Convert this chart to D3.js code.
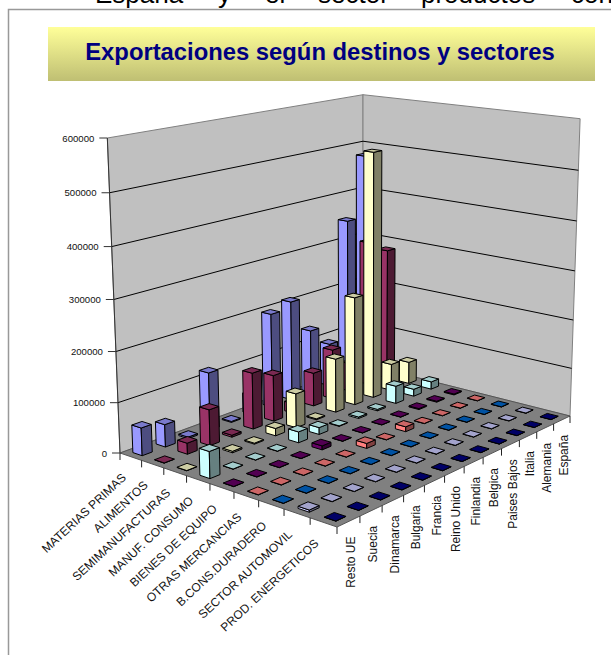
<!DOCTYPE html>
<html lang="es">
<head>
<meta charset="utf-8">
<title>Exportaciones según destinos y sectores</title>
<script src="https://cdn.jsdelivr.net/npm/d3@7/dist/d3.min.js"></script>
<style>
  html, body { margin: 0; padding: 0; background: #fff; overflow: hidden; }
  svg { display: block; }
  text { font-family: "Liberation Sans", Arial, sans-serif; }
</style>
</head>
<body>
<svg id="chart" width="611" height="655"></svg>
<script>
// Sectors run along the left-to-front floor edge, destinations into the depth.
const sectors = ["MATERIAS PRIMAS", "ALIMENTOS", "SEMIMANUFACTURAS", "MANUF. CONSUMO", "BIENES DE EQUIPO",
  "OTRAS MERCANCIAS", "B.CONS.DURADERO", "SECTOR AUTOMOVIL", "PROD. ENERGETICOS"];
const destinos = ["Resto UE", "Suecia", "Dinamarca", "Bulgaria", "Francia", "Reino Unido", "Finlandia",
  "Belgica", "Paises Bajos", "Italia", "Alemania", "España"];
const valueTicks = [0, 100000, 200000, 300000, 400000, 500000, 600000];
const sectorColors = ["#9999FF", "#993366", "#FFFFCC", "#CCFFFF", "#660066", "#FF8080", "#0066CC", "#CCCCFF", "#000080"];

// One array per sector, in the order of destinos.
const materiasPrimas   = [55000, 45000, 3000, 118000, 2000, 40000, 197000, 210000, 135000, 92000, 348000, 478000];
const alimentos        = [500, 22000, 72000, 4000, 115000, 95000, 20000, 70000, 105000, 60000, 310000, 282000];
const semimanufacturas = [500, 1000, 3000, 2000, 15000, 70000, 2000, 112000, 227000, 516000, 57000, 47000];
const manufConsumo     = [52000, 500, 500, 500, 22000, 14000, 1000, 3000, 3000, 37000, 15000, 16000];
const bienesEquipo     = [500, 500, 500, 500, 8000, 500, 500, 500, 500, 2000, 2000, 2000];
const otrasMercancias  = [500, 500, 500, 500, 500, 10000, 500, 10000, 500, 500, 500, 500];
const bConsDuradero    = [500, 500, 500, 500, 500, 500, 500, 500, 500, 500, 500, 500];
const sectorAutomovil  = [4000, 500, 500, 500, 500, 500, 500, 500, 500, 500, 500, 500];
const prodEnergeticos  = [500, 500, 500, 500, 500, 500, 500, 500, 500, 500, 500, 500];
const series = [materiasPrimas, alimentos, semimanufacturas, manufConsumo, bienesEquipo,
  otrasMercancias, bConsDuradero, sectorAutomovil, prodEnergeticos];

// Last line of the running paragraph above the chart, word by word.
const bodyWords = ["España", "y", "el", "sector", "productos", "con"];
const bodyWordStarts = [95, 218, 265, 318, 421, 571];

const svg = d3.select("#chart");

// Perspective camera: the floor homography comes from the four floor corners,
// and uprights converge on one vanishing point below the chart.
const floorCorners = { left: [120, 453], front: [337, 527], right: [570, 416], back: [363, 364] };
const topLeft = [107, 138];
const vanish = [363, 6500];

function floorMatrix(c) {
  const [x0, y0] = c.left, [x1, y1] = c.front, [x2, y2] = c.right, [x3, y3] = c.back;
  const dx1 = x1 - x2, dx2 = x3 - x2, sx = x0 - x1 + x2 - x3;
  const dy1 = y1 - y2, dy2 = y3 - y2, sy = y0 - y1 + y2 - y3;
  const det = dx1 * dy2 - dx2 * dy1;
  const g = (sx * dy2 - dx2 * sy) / det, h = (dx1 * sy - sx * dy1) / det;
  return {
    a: x1 - x0 + g * x1, b: x3 - x0 + h * x3, c: x0,
    d: y1 - y0 + g * y1, e: y3 - y0 + h * y3, f: y0,
    g, h
  };
}
const M = floorMatrix(floorCorners);

// Upright column, scaled so that a full-height wall reaches topLeft.
const upK = (topLeft[1] - floorCorners.left[1]) / (vanish[1] - topLeft[1]);

function project(u, v, w) {
  const X = M.a * u + M.b * v + M.c + w * upK * vanish[0];
  const Y = M.d * u + M.e * v + M.f + w * upK * vanish[1];
  const W = M.g * u + M.h * v + 1 + w * upK;
  return [X / W, Y / W];
}

const uScale = d3.scaleBand().domain(sectors).range([0, 1]);
const vScale = d3.scaleBand().domain(destinos).range([0, 1]);
const wScale = d3.scaleLinear().domain([0, 600000]).range([0, 1]);
const polygon = d3.line();
const closed = pts => polygon(pts) + "Z";

// Running text cut by the top of the page
svg.append("g").selectAll("text").data(bodyWords).join("text")
  .attr("x", (d, i) => bodyWordStarts[i]).attr("y", 3)
  .attr("font-size", 26).attr("fill", "#000").text(d => d);

// Walls and floor
const wallFill = "#C0C0C0", wallEdge = "#808080", ink = "#000";
const walls = svg.append("g");
walls.append("path").attr("d", closed([project(0, 0, 0), project(0, 1, 0), project(0, 1, 1), project(0, 0, 1)]))
  .attr("fill", wallFill).attr("stroke", wallEdge);
walls.append("path").attr("d", closed([project(0, 1, 0), project(1, 1, 0), project(1, 1, 1), project(0, 1, 1)]))
  .attr("fill", wallFill).attr("stroke", wallEdge);
walls.append("path").attr("d", closed([project(0, 0, 0), project(1, 0, 0), project(1, 1, 0), project(0, 1, 0)]))
  .attr("fill", "#808080").attr("stroke", "#555");

// Gridlines on both walls, one per value tick above zero
walls.selectAll("path.grid").data(valueTicks.filter(d => d > 0 && d < 600000)).join("path")
  .attr("class", "grid").attr("fill", "none").attr("stroke", ink).attr("stroke-width", 1)
  .attr("d", d => polygon([project(0, 0, wScale(d)), project(0, 1, wScale(d)), project(1, 1, wScale(d))]));

// Value axis on the outer edge of the left wall
const yAxis = svg.append("g");
yAxis.append("path").attr("fill", "none").attr("stroke", "#333")
  .attr("d", polygon([project(0, 0, 0), project(0, 0, 1)]));
valueTicks.forEach(t => {
  const [x, y] = project(0, 0, wScale(t));
  yAxis.append("line").attr("x1", x - 8).attr("x2", x).attr("y1", y).attr("y2", y).attr("stroke", "#333");
  yAxis.append("text").attr("x", x - 13).attr("y", y + 3.5).attr("text-anchor", "end")
    .attr("font-size", 9.6).attr("fill", "#111").text(t);
});

// Tick marks and labels along the two front floor edges
const edgeTicks = svg.append("g").attr("stroke", "#222");
d3.range(sectors.length + 1).forEach(i => {
  const [x, y] = project(i / sectors.length, 0, 0);
  edgeTicks.append("line").attr("x1", x).attr("x2", x).attr("y1", y).attr("y2", y + 7);
});
d3.range(1, destinos.length + 1).forEach(j => {
  const [x, y] = project(1, j / destinos.length, 0);
  edgeTicks.append("line").attr("x1", x).attr("x2", x).attr("y1", y).attr("y2", y + 7);
});
svg.append("g").selectAll("text").data(sectors).join("text")
  .attr("font-size", 12).attr("fill", "#111").attr("text-anchor", "end")
  .attr("transform", d => {
    const [x, y] = project(uScale(d) + uScale.bandwidth() / 2, 0, 0);
    return `translate(${x - 4},${y + 22}) rotate(-43)`;
  })
  .text(d => d);
svg.append("g").selectAll("text").data(destinos).join("text")
  .attr("font-size", 12).attr("fill", "#111").attr("text-anchor", "end")
  .attr("transform", d => {
    const [x, y] = project(1, vScale(d) + vScale.bandwidth() / 2, 0);
    return `translate(${x + 6},${y + 15}) rotate(-90)`;
  })
  .text(d => d);

// Bars are painted from the back corner toward the viewer
const footprint = 0.43;
const cells = [];
d3.range(destinos.length - 1, -1, -1).forEach(j => {
  sectors.forEach((s, i) => cells.push({ i, j, value: series[i][j], color: sectorColors[i] }));
});
const bars = svg.append("g").attr("stroke", ink).attr("stroke-width", 1).attr("stroke-linejoin", "round");
cells.forEach(c => {
  const du = uScale.bandwidth() * footprint / 2, dv = vScale.bandwidth() * footprint / 2;
  const uc = uScale(sectors[c.i]) + uScale.bandwidth() / 2, vc = vScale(destinos[c.j]) + vScale.bandwidth() / 2;
  const w = wScale(c.value);
  const u0 = uc - du, u1 = uc + du, v0 = vc - dv, v1 = vc + dv;
  const base = d3.color(c.color);
  bars.append("path").attr("fill", base.formatHex())
    .attr("d", closed([project(u0, v0, 0), project(u1, v0, 0), project(u1, v0, w), project(u0, v0, w)]));
  bars.append("path").attr("fill", d3.rgb(base.r * 0.5, base.g * 0.5, base.b * 0.5).formatHex())
    .attr("d", closed([project(u1, v0, 0), project(u1, v1, 0), project(u1, v1, w), project(u1, v0, w)]));
  bars.append("path").attr("fill", d3.rgb(base.r * 0.8, base.g * 0.8, base.b * 0.8).formatHex())
    .attr("d", closed([project(u0, v0, w), project(u1, v0, w), project(u1, v1, w), project(u0, v1, w)]));
});

// Title band
const defs = svg.append("defs");
const grad = defs.append("linearGradient").attr("id", "band").attr("x1", 0).attr("x2", 0).attr("y1", 0).attr("y2", 1);
grad.append("stop").attr("offset", "0%").attr("stop-color", "#FFFF99");
grad.append("stop").attr("offset", "100%").attr("stop-color", "#BFBF73");
svg.append("rect").attr("x", 48).attr("y", 27).attr("width", 547).attr("height", 54).attr("fill", "url(#band)");
svg.append("text").attr("x", 320).attr("y", 60).attr("text-anchor", "middle")
  .attr("font-size", 23.8).attr("font-weight", "bold").attr("fill", "#000080")
  .text("Exportaciones según destinos y sectores");

// Page frame
svg.append("path").attr("fill", "none").attr("stroke", "#999").attr("stroke-width", 1.5)
  .attr("d", "M8.5,655V9.5H611");
</script>
</body>
</html>
